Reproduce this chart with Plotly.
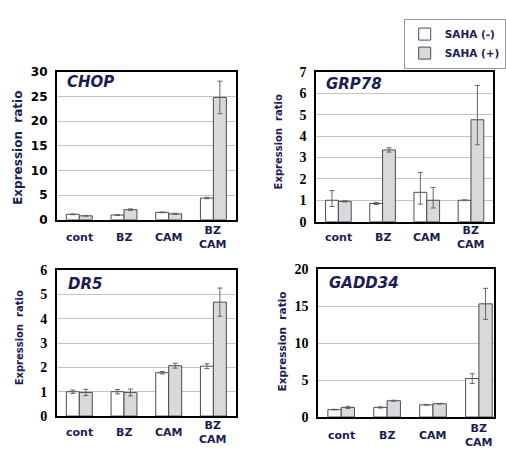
import plotly.graph_objects as go

W, H = 506, 455

categories = ["cont", "BZ", "CAM", "BZ CAM"]
cat_labels = ["cont", "BZ", "CAM", "BZ<br>CAM"]
series_names = ["SAHA (-)", "SAHA (+)"]
genes = ["CHOP", "GRP78", "DR5", "GADD34"]

chop_minus = [1.1, 0.95, 1.5, 4.4]
chop_minus_err = [0.08, 0.1, 0.08, 0.15]
chop_plus = [0.8, 2.05, 1.2, 24.8]
chop_plus_err = [0.08, 0.15, 0.12, 3.3]

grp_minus = [1.0, 0.85, 1.37, 1.0]
grp_minus_up = [0.45, 0.05, 0.93, 0.02]
grp_minus_dn = [0.29, 0.05, 0.55, 0.02]
grp_plus = [0.95, 3.35, 1.0, 4.76]
grp_plus_up = [0.03, 0.1, 0.6, 1.6]
grp_plus_dn = [0.03, 0.1, 0.36, 1.17]

dr5_minus = [1.0, 1.0, 1.78, 2.05]
dr5_minus_err = [0.07, 0.09, 0.05, 0.1]
dr5_plus = [0.97, 0.97, 2.07, 4.68]
dr5_plus_err = [0.13, 0.14, 0.1, 0.58]

gadd_minus = [1.0, 1.3, 1.65, 5.2]
gadd_minus_err = [0.05, 0.08, 0.06, 0.65]
gadd_plus = [1.3, 2.2, 1.8, 15.3]
gadd_plus_err = [0.15, 0.07, 0.05, 2.1]

y_ranges = [[0, 30], [0, 7], [0, 6], [0, 20]]
y_dticks = [5, 1, 1, 5]

NAVY = "#1c1c55"
FILL = ["#ffffff", "#d9d9d9"]
EDGE = "#4a4a5e"
SANS = "DejaVu Sans"
SERIF = "Liberation Serif"

# px boxes: left, right, top, bottom
boxes = [(58, 240, 67, 220), (322, 502, 67, 222), (58, 240, 272, 423), (324, 503, 271, 424)]
x_ranges = [[-0.5, 3.5], [-0.5, 3.5], [-0.5, 3.5], [-0.5, 3.33]]

panels = [
    (chop_minus, chop_minus_err, chop_minus_err, chop_plus, chop_plus_err, chop_plus_err),
    (grp_minus, grp_minus_up, grp_minus_dn, grp_plus, grp_plus_up, grp_plus_dn),
    (dr5_minus, dr5_minus_err, dr5_minus_err, dr5_plus, dr5_plus_err, dr5_plus_err),
    (gadd_minus, gadd_minus_err, gadd_minus_err, gadd_plus, gadd_plus_err, gadd_plus_err),
]

fig = go.Figure()
layout = {}
annotations = []

ytitle_pos = [(19, 146, 12), (283, 139, 10), (20, 342, 10), (287, 346, 10.5)]
xlabel_y = [238, 238, 440, 443]
title_pos = [(66, 78), (330, 80), (67, 286), (333, 285)]
tick_fonts = [dict(family=SANS, size=12, color="black"),
              dict(family=SERIF, size=14, color="black"),
              dict(family=SERIF, size=14, color="black"),
              dict(family=SERIF, size=14, color="black")]

for i, (m, mu, md, p, pu, pd) in enumerate(panels):
    n = "" if i == 0 else str(i + 1)
    xa, ya = "x" + n, "y" + n
    for j, (vals, up, dn) in enumerate([(m, mu, md), (p, pu, pd)]):
        fig.add_trace(go.Bar(
            x=categories, y=vals, name=series_names[j],
            xaxis=xa, yaxis=ya, showlegend=(i == 0),
            marker=dict(color=FILL[j], line=dict(color=EDGE, width=1)),
            error_y=dict(type="data", array=up, arrayminus=dn, symmetric=False,
                         color="#666666", thickness=1, width=2.5),
        ))
    l, r, t, b = boxes[i]
    layout["xaxis" + n] = dict(
        domain=[l / W, r / W], anchor=ya, type="category", range=x_ranges[i],
        showticklabels=False, showline=True, linecolor="black", linewidth=2,
        mirror=True, ticks="", showgrid=False, zeroline=False, fixedrange=True,
    )
    layout["yaxis" + n] = dict(
        domain=[1 - b / H, 1 - t / H], anchor=xa, range=y_ranges[i], dtick=y_dticks[i],
        showline=True, linecolor="black", linewidth=2, mirror=True, ticks="",
        showgrid=True, gridcolor="#c4c4c4", gridwidth=1, zeroline=False,
        tickfont=dict(**tick_fonts[i], weight="bold"), ticklabelstandoff=5,
    )
    # panel gene title
    tx, ty = title_pos[i]
    annotations.append(dict(
        text="<b><i>%s</i></b>" % genes[i], xref="paper", yref="paper",
        x=tx / W, y=1 - ty / H, xanchor="left", yanchor="middle", showarrow=False,
        font=dict(family=SANS, size=15, color=NAVY),
    ))
    # y title
    yx, yy, ys = ytitle_pos[i]
    annotations.append(dict(
        text="<b>Expression\u00a0 ratio</b>", xref="paper", yref="paper",
        x=yx / W, y=1 - yy / H, xanchor="center", yanchor="middle", textangle=-90,
        showarrow=False, font=dict(family=SANS, size=ys, color=NAVY),
    ))
    # category labels
    for c, lab in zip(categories, cat_labels):
        annotations.append(dict(
            text="<b>%s</b>" % lab, xref=xa, yref="paper", x=c,
            y=1 - xlabel_y[i] / H, xanchor="center", yanchor="middle", showarrow=False,
            font=dict(family=SANS, size=11, color=NAVY),
        ))

fig.update_layout(
    **layout,
    annotations=annotations,
    width=W, height=H, margin=dict(l=0, r=0, t=0, b=0),
    paper_bgcolor="white", plot_bgcolor="white",
    barmode="group", bargap=0.42, bargroupgap=0,
    showlegend=True,
    legend=dict(x=411 / W, y=1 - 12 / H, xanchor="left", yanchor="top",
                bgcolor="white", bordercolor="#999999", borderwidth=1,
                font=dict(family=SANS, size=10.5, color=NAVY, weight="bold"),
                itemwidth=30, tracegroupgap=0),
)

fig.write_html("out.html", config={"displayModeBar": False},
               post_script="document.body.style.margin='0';document.body.style.overflow='hidden';")
